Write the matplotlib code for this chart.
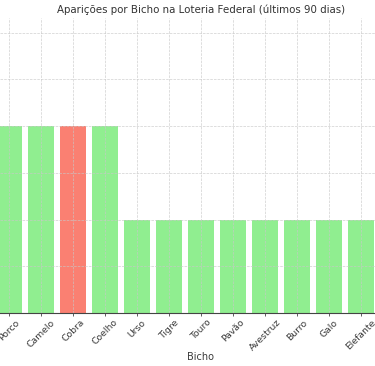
import matplotlib.pyplot as plt

# Visible part of the chart (bars sorted by count)
bichos = ['Porco', 'Camelo', 'Cobra', 'Coelho', 'Urso', 'Tigre', 'Touro',
          'Pavão', 'Avestruz', 'Burro', 'Galo', 'Elefante']
aparicoes = [4, 4, 4, 4, 2, 2, 2, 2, 2, 2, 2, 2]
destaque = 'Cobra'

cores = ['salmon' if b == destaque else 'lightgreen' for b in bichos]

fig = plt.figure(figsize=(3.75, 3.66), dpi=100)
ax = fig.add_axes([0.0, 0.1448, 1.0, 0.8047])

ax.bar(range(len(bichos)), aparicoes, color=cores, width=0.8)

ax.set_xlim(-0.29, 11.43)
ax.set_ylim(0, 6.3)
ax.set_xticks(range(len(bichos)))
ax.set_xticklabels(bichos, rotation=45, fontsize=6.7, color='#3a3a3a')
ax.tick_params(axis='x', length=2.5, width=0.6, color='#444444', pad=1)
ax.set_yticks([1, 2, 3, 4, 5, 6])
ax.tick_params(axis='y', length=0, labelleft=False)

# the full axes is centred further right than this crop
ax.set_xlabel('Bicho', fontsize=7, color='#3a3a3a')
ax.xaxis.set_label_coords(0.536, -0.133)
ax.set_title('Aparições por Bicho na Loteria Federal (últimos 90 dias)',
             fontsize=7.4, color='#333333', pad=4, x=0.536)

ax.grid(True, linestyle='--', color='#c8c8c8', linewidth=0.5, alpha=0.85)
for s in ['top', 'right', 'left']:
    ax.spines[s].set_visible(False)
ax.spines['bottom'].set_color('#444444')
ax.spines['bottom'].set_linewidth(0.8)

fig.savefig('out.png', dpi=100)
